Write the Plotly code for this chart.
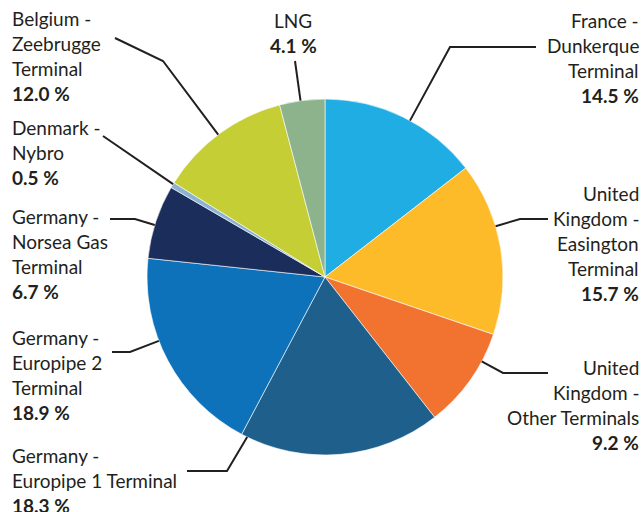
import math
import plotly.graph_objects as go

# Shares of entry points (per cent), clockwise from 12 o'clock
entry_points = [
    "France - Dunkerque Terminal",
    "United Kingdom - Easington Terminal",
    "United Kingdom - Other Terminals",
    "Germany - Europipe 1 Terminal",
    "Germany - Europipe 2 Terminal",
    "Germany - Norsea Gas Terminal",
    "Denmark - Nybro",
    "Belgium - Zeebrugge Terminal",
    "LNG",
]
shares = [14.5, 15.7, 9.2, 18.3, 18.9, 6.7, 0.5, 12.0, 4.1]

# Label text broken into the lines shown next to each slice
label_lines = [
    ["France -", "Dunkerque", "Terminal"],
    ["United", "Kingdom -", "Easington", "Terminal"],
    ["United", "Kingdom -", "Other Terminals"],
    ["Germany -", "Europipe 1 Terminal"],
    ["Germany -", "Europipe 2", "Terminal"],
    ["Germany -", "Norsea Gas", "Terminal"],
    ["Denmark -", "Nybro"],
    ["Belgium -", "Zeebrugge", "Terminal"],
    ["LNG"],
]

slice_colors = [
    "#1FADE3", "#FDBB2A", "#F2722F", "#1E5F8C", "#0E72BA",
    "#1B2D5A", "#8CB3D4", "#C5CE35", "#8DB38C",
]

# ---- layout (pixels) -------------------------------------------------------
W, H = 643, 512
CX, CY, R = 325, 277, 178
LINE_H = 25
TEXT_COLOR = "#231F20"
FONT = "Lato"
FONT_SIZE = 19

# text anchor (x, first-line y, alignment) and leader-line route from the
# text side to the elbow; the last segment runs to the slice edge
label_layout = [
    dict(x=641, y=20, align="right", route=[(536, 47), (450, 47)]),
    dict(x=641, y=193, align="right", route=[(548, 219), (520, 219)]),
    dict(x=641, y=367, align="right", route=[(548, 373), (503, 373)]),
    dict(x=10, y=455, align="left", route=[(187, 471), (227, 471)]),
    dict(x=10, y=337, align="left", route=[(112, 352), (130, 352)]),
    dict(x=10, y=216, align="left", route=[(110, 219), (135, 219)]),
    dict(x=10, y=127, align="left", route=[(103, 136)]),
    dict(x=10, y=18, align="left", route=[(115, 38), (163, 61)]),
    dict(x=293, y=20, align="center", route=[(295, 61)]),
]


def px(x):
    return x / W


def py(y):
    return 1 - y / H


fig = go.Figure(
    go.Pie(
        labels=entry_points,
        values=shares,
        sort=False,
        direction="clockwise",
        rotation=0,
        marker=dict(colors=slice_colors, line=dict(color="white", width=0.6)),
        textinfo="none",
        hoverinfo="label+percent",
        showlegend=False,
        domain=dict(x=[px(CX - R), px(CX + R)], y=[py(CY + R), py(CY - R)]),
    )
)

annotations = []
shapes = []
total = sum(shares)
start = 0.0
for name_lines, share, lay in zip(label_lines, shares, label_layout):
    a0 = start / total * 360
    a1 = (start + share) / total * 360
    start += share

    # leader line meets the arc where it points at the elbow, kept inside the slice
    ex, ey = lay["route"][-1]
    ang = math.degrees(math.atan2(ex - CX, CY - ey)) % 360
    inset = min(2.0, (a1 - a0) * 0.3)
    ang = max(a0 + inset, min(a1 - inset, ang))
    ax = CX + R * math.sin(math.radians(ang))
    ay = CY - R * math.cos(math.radians(ang))

    pts = lay["route"] + [(ax, ay)]
    path = "M " + " L ".join(f"{px(x):.5f},{py(y):.5f}" for x, y in pts)
    shapes.append(dict(type="path", xref="paper", yref="paper", path=path,
                       line=dict(color=TEXT_COLOR, width=2)))

    xanchor = {"left": "left", "right": "right", "center": "center"}[lay["align"]]
    rows = name_lines + [f"<b>{share:.1f} %</b>"]
    for i, row in enumerate(rows):
        annotations.append(dict(
            x=px(lay["x"]), y=py(lay["y"] + i * LINE_H),
            xref="paper", yref="paper", text=row, showarrow=False,
            xanchor=xanchor, yanchor="middle", align=lay["align"],
            font=dict(family=FONT, size=FONT_SIZE, color=TEXT_COLOR),
        ))

fig.update_layout(
    width=W, height=H,
    margin=dict(l=0, r=0, t=0, b=0),
    paper_bgcolor="white",
    plot_bgcolor="white",
    annotations=annotations,
    shapes=shapes,
)

fig.write_html("out.html")
